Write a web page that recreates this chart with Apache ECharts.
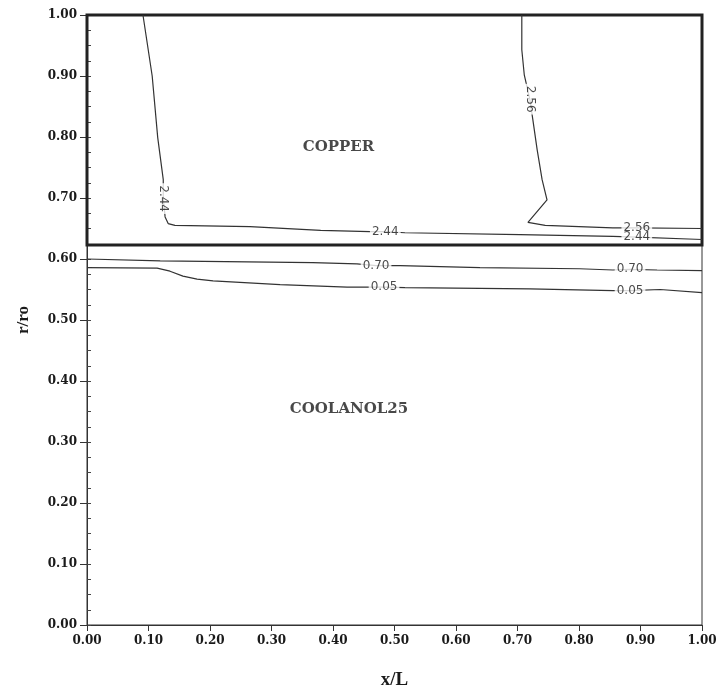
<!DOCTYPE html>
<html>
<head>
<meta charset="utf-8">
<script src="https://cdn.jsdelivr.net/npm/echarts@6/dist/echarts.min.js"></script>
<style>
  html, body { margin: 0; padding: 0; background: #fff; }
  #chart { width: 721px; height: 695px; }
</style>
</head>
<body>
<div id="chart"></div>
<script>
// Interface between the copper wall and the coolant (r/ro)
const copperBoundary = 0.623;

// Isotherm contours, points as [x/L, r/ro]
const contour244 = [
  [0.091, 1.000], [0.106, 0.900], [0.115, 0.799], [0.124, 0.730], [0.124, 0.699],
  [0.127, 0.669], [0.132, 0.658], [0.143, 0.655], [0.265, 0.653], [0.380, 0.647],
  [0.460, 0.645], [0.485, 0.645], [0.517, 0.643], [0.704, 0.640], [0.855, 0.637],
  [0.894, 0.636], [1.000, 0.632]
];
const contour256 = [
  [0.707, 1.000], [0.707, 0.943], [0.711, 0.902], [0.720, 0.862], [0.725, 0.828],
  [0.732, 0.779], [0.740, 0.730], [0.748, 0.697], [0.717, 0.660], [0.745, 0.655],
  [0.855, 0.651], [0.894, 0.651], [1.000, 0.650]
];
const contour070 = [
  [0.000, 0.600], [0.119, 0.597], [0.367, 0.594], [0.439, 0.592], [0.470, 0.589],
  [0.509, 0.589], [0.639, 0.586], [0.801, 0.584], [0.855, 0.582], [0.883, 0.583],
  [0.927, 0.582], [1.000, 0.581]
];
const contour005 = [
  [0.000, 0.586], [0.114, 0.585], [0.135, 0.580], [0.156, 0.572], [0.179, 0.567],
  [0.205, 0.564], [0.314, 0.558], [0.423, 0.554], [0.483, 0.554], [0.517, 0.553],
  [0.720, 0.551], [0.855, 0.548], [0.883, 0.548], [0.932, 0.550], [1.000, 0.545]
];

// Contour level labels: [x/L, r/ro, level]
const verticalLabels = [
  [0.124, 0.699, '2.44'],
  [0.720, 0.862, '2.56']
];
const inlineLabels = [
  [0.485, 0.645, '2.44'],
  [0.894, 0.651, '2.56'],
  [0.894, 0.636, '2.44'],
  [0.470, 0.589, '0.70'],
  [0.483, 0.554, '0.05'],
  [0.883, 0.583, '0.70'],
  [0.883, 0.548, '0.05']
];

// Region names: [x/L, r/ro, name]
const regionNames = [
  [0.409, 0.784, 'COPPER'],
  [0.426, 0.354, 'COOLANOL25']
];

const serif = 'DejaVu Serif';
const ink = '#1a1a1a';

function contourSeries(data, extra) {
  return Object.assign({
    type: 'line',
    data: data,
    showSymbol: false,
    symbol: 'none',
    silent: true,
    z: 3,
    lineStyle: { color: '#333', width: 1.2 }
  }, extra || {});
}

function labelSeries(data, rotate) {
  return {
    type: 'scatter',
    data: data.map(d => ({ value: [d[0], d[1]], name: d[2] })),
    symbolSize: 1,
    itemStyle: { color: 'rgba(0,0,0,0)' },
    silent: true,
    z: 5,
    label: {
      show: true,
      position: 'inside',
      formatter: p => p.name,
      rotate: rotate,
      fontFamily: 'DejaVu Sans',
      fontSize: 12,
      color: ink,
      backgroundColor: '#fff',
      padding: [0, 2]
    }
  };
}

const chart = echarts.init(document.getElementById('chart'), null, { renderer: 'canvas' });

chart.setOption({
  animation: false,
  backgroundColor: '#fff',
  grid: {
    left: 87, right: 19, top: 15, bottom: 69,
    show: true, borderColor: '#333', borderWidth: 1, backgroundColor: 'rgba(0,0,0,0)'
  },
  xAxis: {
    type: 'value',
    min: 0, max: 1, interval: 0.1,
    name: 'x/L',
    nameLocation: 'middle',
    nameGap: 46,
    nameTextStyle: { fontFamily: 'Liberation Serif', fontWeight: 'bold', fontSize: 19, color: ink },
    axisLine: { show: true, lineStyle: { color: '#333', width: 1 } },
    axisTick: { show: true, inside: false, length: 6, lineStyle: { color: '#333' } },
    axisLabel: {
      margin: 10,
      formatter: v => v.toFixed(2),
      fontFamily: serif, fontWeight: 'bold', fontSize: 12, color: ink
    },
    splitLine: { show: false }
  },
  yAxis: [
    {
      type: 'value',
      min: 0, max: 1, interval: 0.1,
      name: 'r/ro',
      nameLocation: 'middle',
      nameGap: 55,
      nameTextStyle: { fontFamily: 'Liberation Serif', fontWeight: 'bold', fontSize: 17, color: ink },
      axisLine: { show: true, lineStyle: { color: '#333', width: 1 } },
      axisTick: { show: true, inside: false, length: 7, lineStyle: { color: '#333' } },
      axisLabel: {
        margin: 10,
        formatter: v => v.toFixed(2),
        fontFamily: serif, fontWeight: 'bold', fontSize: 12, color: ink
      },
      splitLine: { show: false }
    },
    {
      // fine inner ticks every 0.025
      type: 'value',
      position: 'left',
      min: 0, max: 1, interval: 0.025,
      axisLine: { show: false },
      axisTick: { show: true, inside: true, length: 4, lineStyle: { color: '#444' } },
      axisLabel: { show: false },
      splitLine: { show: false }
    }
  ],
  series: [
    contourSeries(contour244, {
      markArea: {
        silent: true,
        itemStyle: { color: 'rgba(0,0,0,0)', borderColor: '#222', borderWidth: 3 },
        data: [[{ coord: [0, copperBoundary] }, { coord: [1, 1] }]]
      }
    }),
    contourSeries(contour256),
    contourSeries(contour070),
    contourSeries(contour005),
    labelSeries(verticalLabels, -90),
    labelSeries(inlineLabels, 0),
    {
      type: 'scatter',
      data: regionNames.map(d => ({ value: [d[0], d[1]], name: d[2] })),
      symbolSize: 1,
      itemStyle: { color: 'rgba(0,0,0,0)' },
      silent: true,
      z: 5,
      label: {
        show: true,
        position: 'inside',
        formatter: p => p.name,
        fontFamily: serif, fontWeight: 'bold', fontSize: 15, color: ink
      }
    }
  ]
});
</script>
</body>
</html>
